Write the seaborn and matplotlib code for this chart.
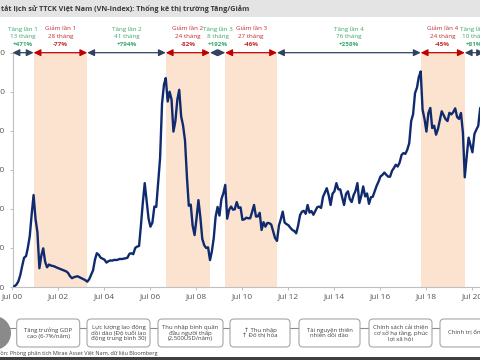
import matplotlib
matplotlib.use("Agg")
import pandas as pd
import matplotlib.pyplot as plt
import matplotlib.dates as mdates
import matplotlib.transforms as mtransforms
from matplotlib.patches import FancyBboxPatch, Circle, Rectangle
import seaborn as sns

# VN-Index, one value per month (1st of month), Jul 2000 - Nov 2020
vnindex = [
    100, 104, 112, 128, 160, 206,                                      # 2000 Jul-Dec
    250, 258, 300, 360, 470, 571, 450, 380, 196, 260, 298, 230,        # 2001
    201, 215, 210, 208, 205, 200, 196, 192, 188, 184, 180, 172,        # 2002
    155, 145, 150, 153, 155, 150, 145, 140, 135, 127, 140, 162,        # 2003
    185, 240, 273, 265, 250, 245, 240, 225, 232, 236, 235, 239,        # 2004
    238, 240, 244, 243, 245, 247, 250, 270, 273, 268, 300, 307,        # 2005
    310, 420, 529, 632, 540, 450, 409, 430, 512, 510, 640, 760,        # 2006
    1040, 1137, 1170, 1050, 1100, 1060, 896, 950, 1060, 1110, 973, 927,  # 2007
    850, 660, 516, 522, 414, 366, 450, 545, 456, 347, 314, 300,        # 2008
    303, 238, 280, 350, 460, 510, 466, 550, 580, 623, 450, 495,        # 2009
    512, 496, 498, 535, 505, 508, 444, 447, 455, 452, 452, 484,        # 2010
    520, 461, 461, 480, 392, 432, 409, 428, 427, 420, 385, 351,        # 2011
    336, 416, 447, 486, 430, 422, 416, 403, 392, 387, 375, 414,        # 2012
    468, 486, 490, 475, 520, 481, 489, 470, 490, 509, 512, 505,        # 2013
    562, 585, 606, 570, 520, 578, 590, 632, 600, 600, 560, 520,        # 2014
    577, 590, 551, 535, 570, 592, 632, 530, 568, 615, 564, 579,        # 2015
    526, 560, 562, 590, 618, 640, 666, 674, 686, 675, 665, 665,        # 2016
    695, 710, 726, 717, 737, 776, 786, 782, 804, 837, 950, 984,        # 2017
    1093, 1121, 1174, 1204, 1008, 960, 896, 990, 1017, 914, 926, 880,  # 2018
    910, 956, 1000, 980, 960, 950, 992, 984, 996, 1015, 970, 961,      # 2019
    991, 889, 662, 769, 865, 825, 790, 883, 906, 925, 1017,            # 2020 Jan-Nov
]

# market phases (Tăng = up, Giảm = down)
phase_label = ["Tăng lần 1", "Giảm lần 1", "Tăng lần 2", "Giảm lần 2", "Tăng lần 3",
               "Giảm lần 3", "Tăng lần 4", "Giảm lần 4", "Tăng lần 5"]
phase_months = ["13 tháng", "28 tháng", "41 tháng", "24 tháng", "8 tháng",
                "27 tháng", "76 tháng", "24 tháng", "10 tháng"]
phase_change = ["+471%", "-77%", "+794%", "-82%", "+192%", "-46%", "+258%", "-45%", "+81%"]
phase_start = ["2000-07-01", "2001-06-01", "2003-10-01", "2007-03-01", "2009-02-01",
               "2009-10-01", "2012-01-01", "2018-04-01", "2020-03-01"]
phase_end = ["2001-06-01", "2003-10-01", "2007-03-01", "2009-02-01", "2009-10-01",
             "2012-01-01", "2018-04-01", "2020-03-01", "2021-01-01"]

# growth drivers row
drivers = [
    "Tăng trưởng GDP\ncao (6-7%/năm)",
    "Lực lượng lao động\ndồi dào (Độ tuổi lao\nđộng trung bình 30)",
    "Thu nhập bình quân\nđầu người thấp\n(2,500USD/năm)",
    "↑ Thu nhập\n↑ Đô thị hóa",
    "Tài nguyên thiên\nnhiên dồi dào",
    "Chính sách cải thiện\ncơ sở hạ tầng, phúc\nlợi xã hội",
    "Chính trị ổn định",
]

title = "tắt lịch sử TTCK Việt Nam (VN-Index): Thống kê thị trường Tăng/Giảm"
source = "Nguồn: Phòng phân tích Mirae Asset Việt Nam, dữ liệu Bloomberg"

NAVY = "#0f2a6e"
UP_TXT, DOWN_TXT = "#3aa76d", "#c42b30"
UP_ARR, DOWN_ARR = "#2f4260", "#c00000"
SHADE = "#fce3cf"
GRAY_TXT = "#404040"

sns.set_theme(style="white")
plt.rcParams["font.family"] = ["Open Sans", "DejaVu Sans"]

df = pd.DataFrame({
    "date": pd.date_range("2000-07-01", periods=len(vnindex), freq="MS"),
    "vnindex": vnindex,
})

W, H = 480, 360
fig = plt.figure(figsize=(4.8, 3.6), dpi=100)
ax_left, ax_top, ax_bottom = 12.5, 52.7, 287
ax = fig.add_axes([ax_left / W, 1 - ax_bottom / H, 1 - ax_left / W, (ax_bottom - ax_top) / H])

# shaded down phases
for lab, s, e in zip(phase_label, phase_start, phase_end):
    if lab.startswith("Giảm"):
        ax.axvspan(pd.Timestamp(s), pd.Timestamp(e), color=SHADE, lw=0, zorder=0)

sns.lineplot(data=df, x="date", y="vnindex", ax=ax, color=NAVY, lw=1.7, zorder=3)

ax.set_xlim(pd.Timestamp("2000-07-01"), pd.Timestamp("2020-10-29"))
ax.set_ylim(100, 1300)
ax.set_yticks(range(100, 1301, 200))
ax.set_xticks(pd.to_datetime([f"{y}-07-01" for y in range(2000, 2021, 2)]))
ax.xaxis.set_major_formatter(mdates.DateFormatter("%b %y"))
ax.set_xlabel("")
ax.set_ylabel("")
for side in ["top", "right"]:
    ax.spines[side].set_visible(False)
for side in ["left", "bottom"]:
    ax.spines[side].set_color("#bfbfbf")
    ax.spines[side].set_linewidth(0.8)
ax.tick_params(axis="both", length=2.5, width=0.7, color="#bfbfbf",
               labelsize=6, labelcolor="#595959", direction="out")
ax.tick_params(axis="y", pad=3)
ax.tick_params(axis="x", pad=2)
ax.tick_params(left=True, bottom=True)

# overlay in pixel coordinates (y downwards)
lay = fig.add_axes([0, 0, 1, 1])
lay.set_xlim(0, W)
lay.set_ylim(H, 0)
lay.set_axis_off()
trans = mtransforms.blended_transform_factory(ax.transData, lay.transData)

# title bar
lay.add_patch(Rectangle((0, 0), W, 17, fc="#e4e4e4", ec="none"))
lay.text(1, 9.5, title, ha="left", va="center", fontsize=5.2, fontweight="bold", color="#3a3a3a")

# phase arrows and labels
for lab, m, ch, s, e in zip(phase_label, phase_months, phase_change, phase_start, phase_end):
    up = lab.startswith("Tăng")
    x0, x1 = mdates.date2num(pd.Timestamp(s)), mdates.date2num(pd.Timestamp(e))
    lay.annotate("", xy=(x1, ax_top), xytext=(x0, ax_top), xycoords=trans, textcoords=trans,
                 arrowprops=dict(arrowstyle="<|-|>,head_length=0.35,head_width=0.17",
                                 color=UP_ARR if up else DOWN_ARR, lw=0.9,
                                 shrinkA=0, shrinkB=0),
                 annotation_clip=False)
    xc = (x0 + x1) / 2
    col = UP_TXT if up else DOWN_TXT
    lay.text(xc, 29, lab, transform=trans, ha="center", va="center", fontsize=4.5, color=col)
    lay.text(xc, 36.5, m, transform=trans, ha="center", va="center", fontsize=4.5, color=col)
    lay.text(xc, 44, ch, transform=trans, ha="center", va="center", fontsize=4.5,
             color=col, fontweight="bold")

# drivers row
box_left = [16.7, 87, 158, 230, 299, 369, 440]
box_width = [63, 63, 65, 60, 61, 63, 63]
lay.plot([0, W], [328, 328], color="#8c8c8c", lw=0.8, zorder=1)
lay.add_patch(Circle((-6, 333), 17, fc="#8a8a8a", ec="none", zorder=2))
for txt, bx, bw in zip(drivers, box_left, box_width):
    lay.add_patch(FancyBboxPatch((bx, 319), bw, 28, boxstyle="round,pad=0,rounding_size=4",
                                 fc="white", ec="#a6a6a6", lw=0.8, zorder=2))
    lay.text(bx + bw / 2, 333, txt, ha="center", va="center", fontsize=4.3,
             color=GRAY_TXT, linespacing=1.15, multialignment="center", zorder=3)

lay.text(158, 353, source, ha="right", va="center", fontsize=4, color=GRAY_TXT)
lay.add_patch(Rectangle((0, 357), W, 3, fc="#3f3f3f", ec="none"))

fig.savefig("out.png", dpi=100)
